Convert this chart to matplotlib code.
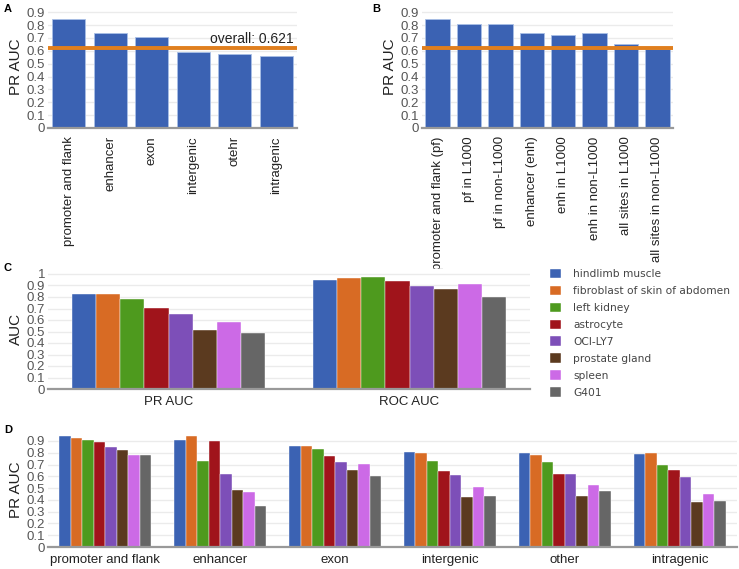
import numpy as np
import matplotlib
matplotlib.use("Agg")
import matplotlib.pyplot as plt

plt.rcParams["font.family"] = ["Liberation Sans", "DejaVu Sans"]

# panel A
regions_a = ["promoter and flank", "enhancer", "exon", "intergenic", "otehr", "intragenic"]
pr_auc_a = [0.845, 0.739, 0.705, 0.590, 0.578, 0.562]
overall = 0.621

# panel B
regions_b = ["promoter and flank (pf)", "pf in L1000", "pf in non-L1000", "enhancer (enh)",
             "enh in L1000", "enh in non-L1000", "all sites in L1000", "all sites in non-L1000"]
pr_auc_b = [0.845, 0.812, 0.806, 0.739, 0.723, 0.739, 0.650, 0.614]

# panel C
samples = ["hindlimb muscle", "fibroblast of skin of abdomen", "left kidney", "astrocyte",
           "OCI-LY7", "prostate gland", "spleen", "G401"]
metrics = ["PR AUC", "ROC AUC"]
pr_auc_c = [0.826, 0.826, 0.783, 0.704, 0.655, 0.516, 0.583, 0.487]
roc_auc_c = [0.948, 0.968, 0.971, 0.936, 0.896, 0.872, 0.913, 0.797]

# panel D
regions_d = ["promoter and flank", "enhancer", "exon", "intergenic", "other", "intragenic"]
hindlimb_d = [0.938, 0.904, 0.861, 0.802, 0.796, 0.793]
fibroblast_d = [0.924, 0.940, 0.856, 0.799, 0.779, 0.799]
kidney_d = [0.904, 0.734, 0.833, 0.734, 0.720, 0.694]
astrocyte_d = [0.887, 0.898, 0.776, 0.649, 0.620, 0.652]
ocily7_d = [0.847, 0.620, 0.725, 0.615, 0.618, 0.592]
prostate_d = [0.824, 0.484, 0.654, 0.422, 0.431, 0.380]
spleen_d = [0.779, 0.467, 0.708, 0.513, 0.530, 0.450]
g401_d = [0.779, 0.346, 0.606, 0.433, 0.473, 0.394]

colors = ["#3b62b3", "#d86b24", "#4e9a1e", "#a0141b", "#7d4fb8", "#5b3a1f", "#cc6ae6", "#666666"]
BLUE = "#3b62b3"
ORANGE = "#e07f1e"
TICK_COLOR = "#555555"

W, H = 739, 569
fig = plt.figure(figsize=(W / 100, H / 100), dpi=100)


def add_axes_px(x0, x1, y_top, y_bottom):
    return fig.add_axes([x0 / W, 1 - y_bottom / H, (x1 - x0) / W, (y_bottom - y_top) / H])


def style(ax, ymax, ytop_tick, ylabel):
    ax.set_ylim(0, ymax)
    ticks = np.round(np.arange(0, ytop_tick + 0.001, 0.1), 1)
    ax.set_yticks(ticks)
    ax.set_yticklabels(["0" if t == 0 else ("1" if t == 1 else f"{t:.1f}") for t in ticks])
    for s in ax.spines.values():
        s.set_visible(False)
    ax.grid(axis="y", color="#ebebeb", lw=1)
    ax.set_axisbelow(True)
    ax.tick_params(axis="y", length=0, labelsize=9.5, labelcolor=TICK_COLOR, pad=2)
    ax.tick_params(axis="x", length=0, labelsize=9.5, labelcolor="#222222")
    ax.axhline(0, color="#999999", lw=1.6, clip_on=False, zorder=5)
    ax.set_ylabel(ylabel, fontsize=11, color="#222222", labelpad=3)


# A
ax_a = add_axes_px(48, 297, 5.8, 128)
xa = np.arange(len(regions_a))
ax_a.bar(xa, pr_auc_a, width=0.8, color=BLUE, edgecolor="#a9bfe6", lw=0.6, zorder=2)
ax_a.axhline(overall, color=ORANGE, lw=2.8, zorder=3)
ax_a.text(0.985, overall + 0.02, f"overall: {overall}", transform=ax_a.get_yaxis_transform(),
          ha="right", va="bottom", fontsize=10, color="#222222", zorder=4)
ax_a.set_xlim(-0.5, len(regions_a) - 0.5)
ax_a.set_xticks(xa)
ax_a.set_xticklabels(regions_a, rotation=90)
style(ax_a, 0.95, 0.9, "PR AUC")
ax_a.tick_params(axis="x", pad=6)

# B
ax_b = add_axes_px(422, 673, 5.8, 128)
xb = np.arange(len(regions_b))
ax_b.bar(xb, pr_auc_b, width=0.78, color=BLUE, edgecolor="#a9bfe6", lw=0.6, zorder=2)
ax_b.axhline(overall, color=ORANGE, lw=2.8, zorder=3)
ax_b.set_xlim(-0.5, len(regions_b) - 0.5)
ax_b.set_xticks(xb)
ax_b.set_xticklabels(regions_b, rotation=90)
style(ax_b, 0.95, 0.9, "PR AUC")
ax_b.tick_params(axis="x", pad=6)

# C
ax_c = add_axes_px(48, 530, 269.4, 389)
xc = np.arange(len(metrics))
handles = []
for j, name in enumerate(samples):
    vals = [pr_auc_c[j], roc_auc_c[j]]
    b = ax_c.bar(xc + (j - 3.5) * 0.1, vals, width=0.1, color=colors[j],
                 edgecolor="white", lw=0.3, zorder=2, label=name)
    handles.append(b)
ax_c.set_xlim(-0.5, len(metrics) - 0.5)
ax_c.set_xticks(xc)
ax_c.set_xticklabels(metrics)
style(ax_c, 1.04, 1.0, "AUC")
ax_c.tick_params(axis="x", pad=5)
fig.legend(handles=handles, labels=samples, loc="upper left",
           bbox_to_anchor=(540 / W, 1 - 259 / H), frameon=False,
           handlelength=1.03, handleheight=1.03, handletextpad=1.15, labelspacing=0.6,
           prop={"family": "DejaVu Sans", "size": 7.7}, labelcolor="#444444")

# D
ax_d = add_axes_px(48, 737, 432.7, 547)
series_d = [hindlimb_d, fibroblast_d, kidney_d, astrocyte_d, ocily7_d, prostate_d, spleen_d, g401_d]
xd = np.arange(len(regions_d))
for j, vals in enumerate(series_d):
    ax_d.bar(xd + (j - 3.5) * 0.1, vals, width=0.1, color=colors[j],
             edgecolor="white", lw=0.3, zorder=2)
ax_d.set_xlim(-0.5, len(regions_d) - 0.5)
ax_d.set_xticks(xd)
ax_d.set_xticklabels(regions_d)
style(ax_d, 0.97, 0.9, "PR AUC")
ax_d.tick_params(axis="x", pad=5)

# panel letters
for letter, (px, py) in {"A": (4, 9), "B": (372, 9), "C": (4, 268), "D": (4, 430)}.items():
    fig.text(px / W, 1 - py / H, letter, fontsize=8, fontweight="bold", va="center")

fig.savefig("out.png", dpi=100)
